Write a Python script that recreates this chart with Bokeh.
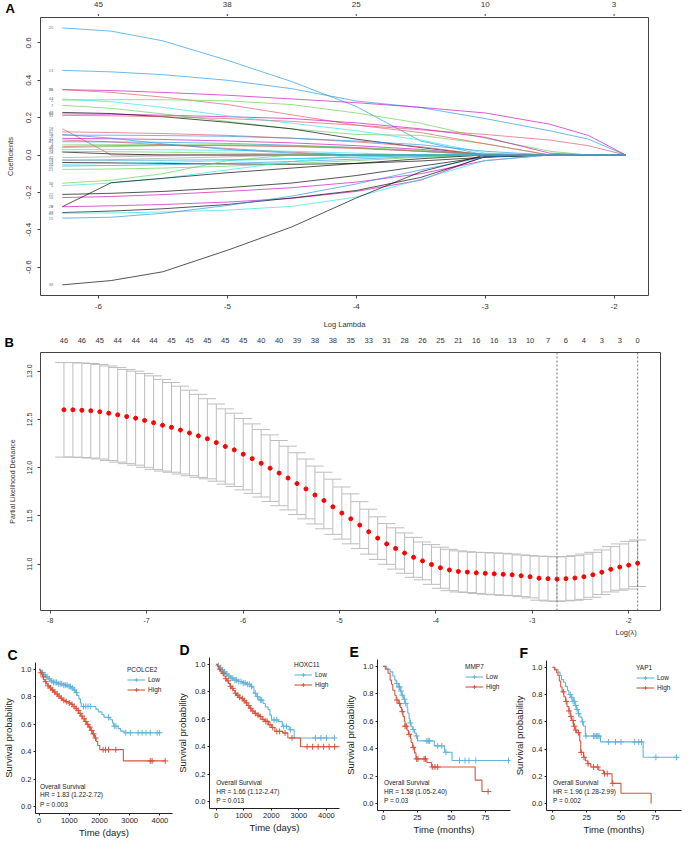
import numpy as np
from bokeh.plotting import figure
from bokeh.layouts import column, row
from bokeh.models import (Range1d, LinearAxis, FixedTicker, Label, Span, Legend, LegendItem,
                          ColumnDataSource, Title)
from bokeh.embed import file_html
from bokeh.resources import INLINE
from bokeh.core.properties import value

FONT = "Liberation Sans"

# ---------------- Panel A data (lasso coefficient paths) ----------------
A_LOGLAM = [-6.28, -5.9, -5.5, -5.0, -4.5, -4.0, -3.5, -3.0, -2.5, -2.2, -1.91]
A_PATHS = [
    [0.680, 0.663, 0.611, 0.507, 0.393, 0.260, 0.075, 0, 0, 0, 0],
    [0.453, 0.445, 0.430, 0.400, 0.355, 0.289, 0.254, 0.195, 0.130, 0.085, 0],
    [0.350, 0.345, 0.335, 0.320, 0.300, 0.280, 0.255, 0.225, 0.165, 0.105, 0],
    [0.350, 0.335, 0.310, 0.270, 0.215, 0.160, 0.135, 0.110, 0.080, 0.050, 0],
    [0.294, 0.296, 0.296, 0.290, 0.270, 0.225, 0.170, 0.090, 0.020, 0, 0],
    [0.220, 0.218, 0.213, 0.205, 0.195, 0.172, 0.140, 0.095, 0.010, 0, 0],
    [0.266, 0.250, 0.220, 0.180, 0.140, 0.110, 0.105, 0.060, 0, 0, 0],
    [0.228, 0.222, 0.205, 0.175, 0.140, 0.085, 0.040, 0, 0, 0, 0],
    [0.212, 0.210, 0.205, 0.195, 0.180, 0.160, 0.120, 0.060, 0, 0, 0],
    [0.300, 0.285, 0.255, 0.210, 0.170, 0.130, 0.080, 0.010, 0, 0, 0],
    [0.141, 0, 0, 0, 0, 0, 0, 0, 0, 0, 0],
    [0.124, 0.120, 0.115, 0.105, 0.090, 0.070, 0.045, 0, 0, 0, 0],
    [0.106, 0.106, 0.104, 0.100, 0.090, 0.075, 0.055, 0.020, 0, 0, 0],
    [0.089, 0.087, 0.083, 0.075, 0.065, 0.050, 0.030, 0, 0, 0, 0],
    [0.071, 0.070, 0.068, 0.062, 0.052, 0.040, 0.020, 0, 0, 0, 0],
    [0.054, 0.055, 0.055, 0.052, 0.047, 0.038, 0.020, 0, 0, 0, 0],
    [0.040, 0.045, 0.050, 0.055, 0.050, 0.040, 0.025, 0.005, 0, 0, 0],
    [0.016, 0.006, 0, 0, 0, 0, 0, 0, 0, 0, 0],
    [0.080, 0.070, 0.055, 0.035, 0.015, 0, 0, 0, 0, 0, 0],
    [0.030, 0.030, 0.028, 0.025, 0.020, 0.010, 0, 0, 0, 0, 0],
    [-0.014, -0.010, -0.005, 0, 0, 0, 0, 0, 0, 0, 0],
    [-0.026, -0.028, -0.028, -0.025, -0.020, -0.012, -0.004, 0, 0, 0, 0],
    [-0.040, -0.042, -0.045, -0.048, -0.050, -0.045, -0.032, -0.012, 0, 0, 0],
    [-0.059, -0.056, -0.052, -0.045, -0.035, -0.022, -0.008, 0, 0, 0, 0],
    [-0.077, -0.075, -0.070, -0.060, -0.045, -0.030, -0.012, 0, 0, 0, 0],
    [-0.151, -0.135, -0.100, -0.030, 0, 0, 0, 0, 0, 0, 0],
    [-0.164, -0.150, -0.125, -0.080, -0.035, 0, 0, 0, 0, 0, 0],
    [-0.211, -0.205, -0.195, -0.175, -0.150, -0.110, -0.060, -0.010, 0, 0, 0],
    [-0.228, -0.222, -0.212, -0.195, -0.175, -0.145, -0.100, -0.030, 0, 0, 0],
    [-0.277, -0.148, -0.125, -0.095, -0.070, -0.045, -0.020, 0, 0, 0, 0],
    [-0.277, -0.272, -0.265, -0.252, -0.232, -0.195, -0.135, -0.005, 0, 0, 0],
    [-0.308, -0.300, -0.288, -0.265, -0.230, -0.190, -0.120, -0.010, 0, 0, 0],
    [-0.312, -0.310, -0.305, -0.295, -0.275, -0.225, -0.130, -0.030, 0, 0, 0],
    [-0.338, -0.333, -0.312, -0.270, -0.220, -0.155, -0.080, -0.010, 0, 0, 0],
    [-0.695, -0.672, -0.625, -0.510, -0.385, -0.230, -0.090, 0, 0, 0, 0],
    [0.020, 0.018, 0.015, 0.010, 0.005, 0, 0, 0, 0, 0, 0],
    [-0.030, -0.025, -0.018, -0.010, 0, 0, 0, 0, 0, 0, 0],
    [0.045, 0.050, 0.052, 0.050, 0.045, 0.035, 0.020, 0.005, 0, 0, 0],
    [-0.050, -0.045, -0.040, -0.030, -0.020, -0.010, 0, 0, 0, 0, 0],
    [0.110, 0.090, 0.060, 0.030, 0.010, 0, 0, 0, 0, 0, 0],
]
BL, RD, GR, CY, MG, BK, GY = "#2297E6", "#DF536B", "#61D04F", "#28E2E5", "#CD0BBC", "#000000", "#9E9E9E"
A_COLORS = [BL, BL, MG, RD, GR, MG, GR, BK, RD, CY, RD, RD, BL, MG, BL, GR, GR, BK, RD, CY,
            GY, BL, BK, BL, GR, GR, CY, BK, MG, BK, MG, BK, CY, BL, BK, GR, GY, RD, CY, BL]
A_VARLABELS = ["20", "13", "35", "36", "2", "30", "7", "43", "31", "44", "18", "32", "8", "11", "41", "4",
               "40", "24", "27", "33", "42", "17", "14", "12", "21", "39", "5", "22", "16", "6", "28",
               "23", "45", "15", "38", "1", "3", "9", "10", "19"]
A_YTICKS = [-0.6, -0.4, -0.2, 0.0, 0.2, 0.4, 0.6]
A_YLABELS = ["-0.6", "-0.4", "-0.2", "0.0", "0.2", "0.4", "0.6"]
A_XTICKS = [-6, -5, -4, -3, -2]
A_XLABELS = ["-6", "-5", "-4", "-3", "-2"]
A_TOPLABELS = ["45", "38", "25", "10", "3"]

# ---------------- Panel B data (cross-validation) ----------------
B_LOGLAM = [-7.858, -7.765, -7.672, -7.579, -7.486, -7.393, -7.300, -7.207, -7.114, -7.021,
            -6.928, -6.835, -6.742, -6.649, -6.556, -6.463, -6.370, -6.277, -6.184, -6.091,
            -5.998, -5.905, -5.812, -5.719, -5.626, -5.533, -5.440, -5.347, -5.254, -5.161,
            -5.068, -4.975, -4.882, -4.789, -4.696, -4.603, -4.510, -4.417, -4.324, -4.231,
            -4.138, -4.045, -3.952, -3.859, -3.766, -3.673, -3.580, -3.487, -3.394, -3.301,
            -3.208, -3.115, -3.022, -2.929, -2.836, -2.743, -2.650, -2.557, -2.464, -2.371,
            -2.278, -2.185, -2.092, -1.999, -1.906]
B_MEAN = [12.600, 12.600, 12.595, 12.590, 12.580, 12.565, 12.548, 12.530, 12.513, 12.490,
          12.467, 12.440, 12.418, 12.390, 12.360, 12.330, 12.300, 12.260, 12.220, 12.185,
          12.140, 12.094, 12.046, 11.995, 11.944, 11.893, 11.835, 11.780, 11.717, 11.660,
          11.595, 11.530, 11.470, 11.405, 11.337, 11.270, 11.210, 11.163, 11.115, 11.071,
          11.034, 10.997, 10.963, 10.940, 10.925, 10.918, 10.910, 10.905, 10.900, 10.895,
          10.890, 10.880, 10.870, 10.855, 10.850, 10.845, 10.850, 10.857, 10.870, 10.890,
          10.917, 10.947, 10.970, 10.990, 11.010]
B_SE = [0.490, 0.490, 0.490, 0.490, 0.490, 0.490, 0.490, 0.488, 0.487, 0.486,
        0.485, 0.475, 0.465, 0.455, 0.443, 0.430, 0.415, 0.400, 0.390, 0.380,
        0.370, 0.360, 0.350, 0.345, 0.338, 0.330, 0.320, 0.310, 0.300, 0.293,
        0.286, 0.270, 0.259, 0.243, 0.233, 0.221, 0.211, 0.214, 0.209, 0.207,
        0.196, 0.206, 0.213, 0.214, 0.213, 0.211, 0.213, 0.216, 0.216, 0.218,
        0.216, 0.216, 0.219, 0.228, 0.231, 0.231, 0.230, 0.231, 0.235, 0.233,
        0.231, 0.235, 0.240, 0.247, 0.241]
B_NZERO = ["46", "46", "45", "44", "44", "44", "45", "45", "45", "45", "45", "40", "40", "39", "38", "38",
           "35", "33", "31", "28", "26", "25", "21", "16", "16", "13", "10", "7", "6", "4", "3", "3", "0"]
B_YTICKS = [11.0, 11.5, 12.0, 12.5, 13.0]
B_YLABELS = ["11.0", "11.5", "12.0", "12.5", "13.0"]
B_XTICKS = [-8, -7, -6, -5, -4, -3, -2]
B_XLABELS = ["-8", "-7", "-6", "-5", "-4", "-3", "-2"]

# ---------------- Panels C-F data (Kaplan-Meier) ----------------
C_LOW_T = [0, 40, 90, 150, 220, 300, 380, 450, 600, 800, 960, 1050, 1130, 1200, 1260, 1320, 1370, 1400,
           1880, 1960, 2080, 2150, 2350, 2430, 2470, 2620, 2700, 2820, 3990]
C_LOW_S = [1.0, 0.99, 0.975, 0.96, 0.945, 0.93, 0.915, 0.905, 0.895, 0.885, 0.875, 0.865, 0.85, 0.83, 0.81,
           0.785, 0.755, 0.73, 0.71, 0.69, 0.67, 0.65, 0.633, 0.61, 0.586, 0.568, 0.55, 0.538, 0.538]
C_LOW_CENS = [120, 200, 260, 340, 420, 480, 530, 580, 640, 700, 750, 820, 870, 930, 990, 1040, 1100, 1170,
              1240, 1470, 1545, 1620, 1700, 2300, 2490, 2545, 2870, 3020, 3280, 3410, 3540, 3680, 3910, 3990]
C_HIGH_T = [0, 30, 60, 90, 120, 150, 190, 240, 290, 350, 410, 480, 550, 620, 700, 780, 860, 960, 1060, 1120,
            1200, 1260, 1320, 1380, 1440, 1510, 1570, 1640, 1700, 1760, 1840, 1890, 1940, 2010, 2790, 4175]
C_HIGH_S = [1.0, 0.99, 0.975, 0.96, 0.945, 0.925, 0.91, 0.895, 0.88, 0.865, 0.85, 0.835, 0.82, 0.805, 0.79,
            0.775, 0.765, 0.755, 0.745, 0.73, 0.715, 0.70, 0.68, 0.66, 0.64, 0.62, 0.60, 0.58, 0.555, 0.53,
            0.50, 0.475, 0.445, 0.415, 0.333, 0.333]
C_HIGH_CENS = [60, 140, 220, 300, 380, 450, 520, 600, 660, 740, 820, 900, 1000, 1090, 1160, 1230, 1300,
               1360, 1420, 1490, 1550, 1610, 1680, 1740, 1800, 1870, 2120, 2200, 2300, 2540, 3680, 3740, 4175]

D_LOW_T = [0, 40, 100, 170, 250, 330, 420, 520, 640, 800, 950, 1100, 1250, 1320, 1370, 1450, 1550, 1700,
           1780, 1880, 1950, 2010, 2250, 2400, 2650, 2830, 4290]
D_LOW_S = [1.0, 0.99, 0.975, 0.96, 0.945, 0.93, 0.915, 0.90, 0.885, 0.875, 0.865, 0.855, 0.84, 0.83, 0.79,
           0.765, 0.74, 0.715, 0.69, 0.67, 0.63, 0.595, 0.583, 0.548, 0.524, 0.464, 0.464]
D_LOW_CENS = [80, 150, 220, 300, 380, 460, 540, 600, 680, 740, 820, 900, 980, 1050, 1130, 1200, 1280, 1420,
              1500, 1600, 1650, 2100, 2200, 2450, 2550, 2700, 3600, 3800, 4000, 4290]
D_HIGH_T = [0, 50, 100, 150, 200, 270, 330, 390, 450, 500, 560, 620, 680, 740, 820, 910, 980, 1050, 1120,
            1200, 1290, 1380, 1480, 1560, 1660, 1760, 1900, 2000, 2130, 2420, 2600, 3060, 4580]
D_HIGH_S = [1.0, 0.985, 0.965, 0.95, 0.935, 0.915, 0.895, 0.88, 0.86, 0.84, 0.825, 0.81, 0.79, 0.775, 0.76,
            0.75, 0.735, 0.72, 0.70, 0.68, 0.66, 0.643, 0.63, 0.62, 0.60, 0.585, 0.56, 0.54, 0.512, 0.50,
            0.464, 0.40, 0.40]
D_HIGH_CENS = [130, 250, 350, 430, 520, 600, 700, 780, 850, 950, 1020, 1100, 1180, 1250, 1330, 1420, 1520,
               1600, 1700, 1800, 1850, 1950, 2050, 2200, 2300, 2500, 2750, 3300, 3500, 3700, 3900, 4100,
               4300, 4580]

E_LOW_T = [0, 2.5, 5, 7, 8.5, 9.5, 11, 12.5, 13.5, 15, 16, 17.5, 18, 19, 19.5, 20.5, 21.6, 23, 24, 25.2,
           37.5, 45, 50.5, 92]
E_LOW_S = [1.0, 0.98, 0.96, 0.93, 0.90, 0.875, 0.85, 0.82, 0.79, 0.76, 0.73, 0.70, 0.66, 0.62, 0.588, 0.56,
           0.54, 0.515, 0.493, 0.457, 0.421, 0.374, 0.314, 0.314]
E_LOW_CENS = [10, 11.5, 12, 13, 14, 15.5, 16.5, 20, 22, 24.5, 32, 33, 34, 40, 43, 46, 56, 60, 63, 68, 92]
E_HIGH_T = [0, 1.5, 3.5, 5, 6, 7, 8.5, 9.5, 11, 12.5, 13.5, 14.5, 15.5, 16, 17.5, 18.5, 20, 20.5, 21.6, 23,
            24, 32, 35.5, 67.5, 72.5, 77]
E_HIGH_S = [1.0, 0.98, 0.95, 0.90, 0.87, 0.826, 0.79, 0.755, 0.73, 0.70, 0.67, 0.636, 0.60, 0.564, 0.535,
            0.505, 0.475, 0.445, 0.41, 0.37, 0.326, 0.30, 0.267, 0.171, 0.088, 0.088]
E_HIGH_CENS = [10, 12, 14, 16, 17, 19, 22, 24.5, 25.5, 30, 31, 36, 38, 40, 77]

F_LOW_T = [0, 2, 4, 5.5, 6.5, 8, 9.5, 11, 12, 13.5, 15, 16.5, 17.5, 19, 20, 21.5, 22.5, 24, 35, 66.2, 90.5]
F_LOW_S = [1.0, 0.985, 0.965, 0.94, 0.91, 0.89, 0.86, 0.83, 0.80, 0.78, 0.75, 0.72, 0.69, 0.66, 0.635, 0.60,
           0.57, 0.496, 0.453, 0.34, 0.34]
F_LOW_CENS = [13, 14, 15, 16, 17, 18, 19, 22, 24.5, 30, 31, 32, 33, 34, 41, 46, 50, 60, 63, 65, 75.5, 90.5]
F_HIGH_T = [0, 1.4, 3, 4, 5, 6, 7, 8.3, 9.5, 10.6, 12, 13, 14, 15.3, 16.5, 17.6, 19.9, 20.6, 22.7, 24, 25.7,
            28, 33.8, 37.3, 43.5, 50, 72]
F_HIGH_S = [1.0, 0.98, 0.96, 0.94, 0.90, 0.856, 0.82, 0.784, 0.75, 0.712, 0.68, 0.64, 0.61, 0.568, 0.54,
            0.52, 0.46, 0.376, 0.34, 0.315, 0.293, 0.269, 0.245, 0.22, 0.149, 0.077, 0.0]
F_HIGH_CENS = [8, 10, 12, 13.5, 15, 16, 17, 19, 21, 23, 26, 30, 33, 38, 40, 44]

KM_YTICKS = [0.0, 0.2, 0.4, 0.6, 0.8, 1.0]
KM_YLABELS = ["0.0", "0.2", "0.4", "0.6", "0.8", "1.0"]
DAYS_TICKS = [0, 1000, 2000, 3000, 4000]
DAYS_LABELS = ["0", "1000", "2000", "3000", "4000"]
MONTH_TICKS = [0, 25, 50, 75]
MONTH_LABELS = ["0", "25", "50", "75"]

LOW_COL = "#62B4DA"
HIGH_COL = "#D9543C"


def make_fig(w, h, fl, ft, fr, fb, xr, yr):
    p = figure(width=w, height=h, x_range=Range1d(xr[0], xr[1]), y_range=Range1d(yr[0], yr[1]),
               output_backend="svg", toolbar_location=None, title=None,
               x_axis_type=None, y_axis_type=None, frame_align=False,
               min_border_left=fl, min_border_top=ft, min_border_right=w - fr, min_border_bottom=h - fb)
    p.outline_line_color = None
    p.background_fill_color = "white"
    p.border_fill_color = "white"
    return p


def strip_fig(w, h, fl, fr, xr):
    # a thin strip whose frame is the whole canvas, sharing the x scale of the panel below it
    k = (xr[1] - xr[0]) / (fr - fl)
    x0 = xr[0] - fl * k
    x1 = xr[1] + (w - fr) * k
    p = figure(width=w, height=h, x_range=Range1d(x0, x1), y_range=Range1d(0, h),
               output_backend="svg", toolbar_location=None, title=None, frame_align=False,
               x_axis_type=None, y_axis_type=None,
               min_border_left=0, min_border_right=0, min_border_top=0, min_border_bottom=0)
    p.outline_line_color = None
    p.background_fill_color = "white"
    p.border_fill_color = "white"
    return p, x0, k


def add_axis(p, side, ticks, labels, size, tick_out, standoff, color="#333333", title=None,
             title_size=None, title_standoff=None, orientation=None, tick_color=None, line_color=None):
    ax = LinearAxis(ticker=FixedTicker(ticks=list(ticks)),
                    major_label_overrides={t: l for t, l in zip(ticks, labels)})
    ax.major_label_text_font = FONT
    ax.major_label_text_font_size = f"{size}px"
    ax.major_label_text_color = color
    ax.major_tick_out = tick_out
    ax.major_tick_in = 0
    ax.minor_tick_line_color = None
    ax.major_label_standoff = standoff
    ax.major_tick_line_color = tick_color
    ax.axis_line_color = line_color
    if orientation is not None:
        ax.major_label_orientation = orientation
    if title is not None:
        ax.axis_label = title
        ax.axis_label_text_font = FONT
        ax.axis_label_text_font_size = f"{title_size}px"
        ax.axis_label_text_font_style = "normal"
        ax.axis_label_text_color = color
        ax.axis_label_standoff = title_standoff
    p.add_layout(ax, side)
    return ax


# ---------------- Panel A ----------------
W = 683
A_XR = (-6.449, -1.733)
A_FL, A_FR = 40, 648
SA_H = 16
sA, sA_x0, sA_k = strip_fig(W, SA_H, A_FL, A_FR, A_XR)
sA.segment(x0=A_XTICKS, y0=[0] * 5, x1=A_XTICKS, y1=[2.5] * 5, line_color="#444444", line_width=1)
sA.text(x=A_XTICKS, y=[12.1] * 5, text=A_TOPLABELS, text_font=value(FONT), text_font_size="8px",
        text_color="#333333", text_align="center", text_baseline="middle")
sA.text(x=[sA_x0 + 5 * sA_k], y=[15.6], text=["A"], text_font=value(FONT), text_font_size="13px",
        text_font_style="bold", text_color="#000000", text_align="left", text_baseline="top")

pA = make_fig(W, 316, A_FL, 1, A_FR, 279, A_XR, (-0.752, 0.736))
pA.outline_line_color = "#444444"
add_axis(pA, "left", A_YTICKS, A_YLABELS, 8, 3, 6, title="Coefficients", title_size=7.5, title_standoff=9,
         orientation="vertical", tick_color="#444444")
add_axis(pA, "below", A_XTICKS, A_XLABELS, 8, 3, 5, title="Log Lambda", title_size=7.5, title_standoff=8,
         tick_color="#444444")
srcA = ColumnDataSource(dict(xs=[A_LOGLAM] * len(A_PATHS), ys=A_PATHS, c=A_COLORS))
pA.multi_line(xs="xs", ys="ys", line_color="c", line_width=0.9, line_alpha=0.75, source=srcA)
pA.text(x=[A_LOGLAM[0] - 0.07] * len(A_PATHS), y=[pth[0] for pth in A_PATHS], text=A_VARLABELS,
        text_font=value(FONT), text_font_size="4px", text_color="#777777", text_align="right",
        text_baseline="middle")

# ---------------- Panel B ----------------
B_XR = (-8.101, -1.669)
B_FL, B_FR = 40, 660
sB, sB_x0, sB_k = strip_fig(W, 19, B_FL, B_FR, B_XR)
top_ticks = [round(v, 4) for v in B_LOGLAM[::2]]
sB.text(x=top_ticks, y=[10.6] * len(top_ticks), text=B_NZERO, text_font=value(FONT), text_font_size="7.5px",
        text_color="#333333", text_align="center", text_baseline="middle")
sB.text(x=[sB_x0 + 4 * sB_k], y=[17.0], text=["B"], text_font=value(FONT), text_font_size="13px",
        text_font_style="bold", text_color="#000000", text_align="left", text_baseline="top")

pB = make_fig(W, 287, B_FL, 1, B_FR, 259, B_XR, (10.52, 13.194))
pB.outline_line_color = "#444444"
add_axis(pB, "left", B_YTICKS, B_YLABELS, 7, 3, 5, title="Partial Likelihood Deviance", title_size=7,
         title_standoff=9, orientation="vertical", tick_color="#444444")
add_axis(pB, "below", B_XTICKS, B_XLABELS, 7, 3, 4, tick_color="#444444")
pB.add_layout(Title(text="Log(λ)", align="left", offset=575, standoff=0, text_font=FONT,
                    text_font_size="7.5px", text_font_style="normal", text_color="#333333"), "below")
mean = np.array(B_MEAN)
se = np.array(B_SE)
ll = np.array(B_LOGLAM)
capw = 0.09
pB.segment(x0=ll, y0=mean - se, x1=ll, y1=mean + se, line_color="#BDBDBD", line_width=1)
pB.segment(x0=ll - capw, y0=mean + se, x1=ll + capw, y1=mean + se, line_color="#BDBDBD", line_width=1)
pB.segment(x0=ll - capw, y0=mean - se, x1=ll + capw, y1=mean - se, line_color="#BDBDBD", line_width=1)
pB.scatter(x=ll, y=mean, size=4, fill_color="#FF0000", line_color="#FF0000")
imin = int(np.argmin(mean))
thr = mean[imin] + se[imin]
i1se = int(max(i for i in range(len(mean)) if mean[i] <= thr))
for loc in (ll[imin], ll[i1se]):
    pB.add_layout(Span(location=float(loc), dimension="height", line_color="#555555", line_width=0.8,
                       line_dash="2 2"))


# ---------------- Panels C-F ----------------
def step_at(times, surv, t):
    idx = np.searchsorted(np.array(times), np.array(t), side="right") - 1
    return [surv[i] for i in idx]


def km_panel(w, h, fl, ft, fr, fb, xr, xticks, xlabels, xtitle, gene, low, high, ann, let, let_off):
    p = make_fig(w, h, fl, ft, fr, fb, xr, (-0.05, 1.05))
    p.add_layout(Title(text=let, align="left", offset=let_off, standoff=0, text_font=FONT,
                       text_font_size="14px", text_font_style="bold", text_color="#000000"), "above")
    add_axis(p, "left", KM_YTICKS, KM_YLABELS, 7.5, 2, 2, color="#222222", title="Survival probability",
             title_size=9.5, title_standoff=4, tick_color="#222222", line_color="#222222")
    add_axis(p, "below", xticks, xlabels, 7.5, 2, 2, color="#222222", title=xtitle, title_size=9.5,
             title_standoff=1, tick_color="#222222", line_color="#222222")
    items = []
    for (t, s, cens), col, lab in ((low, LOW_COL, "Low"), (high, HIGH_COL, "High")):
        r1 = p.step(x=t, y=s, mode="after", line_color=col, line_width=1.1)
        r2 = p.scatter(x=cens, y=step_at(t, s, cens), marker="cross", size=6, line_color=col,
                       line_width=1)
        items.append(LegendItem(label=lab, renderers=[r1, r2]))
    leg = Legend(items=items, title=gene, location="top_right", margin=4, padding=2, spacing=1,
                 glyph_width=18, glyph_height=9, label_height=9, label_standoff=3, title_standoff=2,
                 background_fill_alpha=0, border_line_color=None,
                 label_text_font=FONT, label_text_font_size="6.5px", label_text_color="#222222",
                 title_text_font=FONT, title_text_font_size="6.5px", title_text_font_style="normal",
                 title_text_color="#222222")
    p.add_layout(leg)
    for (tx, ty, txt) in ann:
        p.add_layout(Label(x=tx, y=ty, text=txt, text_font=FONT, text_font_size="6.5px",
                           text_align="left", text_baseline="middle", text_color="#222222"))
    return p


RH = 202
pC = km_panel(174, RH, 32, 24, 172, 175, (-117, 4416), DAYS_TICKS, DAYS_LABELS, "Time (days)", "PCOLCE2",
              (C_LOW_T, C_LOW_S, C_LOW_CENS), (C_HIGH_T, C_HIGH_S, C_HIGH_CENS),
              [(30, 0.15, "Overall Survival"), (30, 0.086, "HR = 1.83 (1.22-2.72)"), (30, 0.014, "P = 0.003")],
              "C", -28)
pD = km_panel(168, RH, 33, 19, 165, 170, (-245, 4476), DAYS_TICKS, DAYS_LABELS, "Time (days)", "HOXC11",
              (D_LOW_T, D_LOW_S, D_LOW_CENS), (D_HIGH_T, D_HIGH_S, D_HIGH_CENS),
              [(0, 0.143, "Overall Survival"), (0, 0.076, "HR = 1.66 (1.12-2.47)"), (0, 0.007, "P = 0.013")],
              "D", -30)
pE = km_panel(169, RH, 32, 21, 168, 172, (-4.23, 93.45), MONTH_TICKS, MONTH_LABELS, "Time (months)", "MMP7",
              (E_LOW_T, E_LOW_S, E_LOW_CENS), (E_HIGH_T, E_HIGH_S, E_HIGH_CENS),
              [(0.5, 0.152, "Overall Survival"), (0.5, 0.088, "HR = 1.58 (1.05-2.40)"), (0.5, 0.024, "P = 0.03")],
              "E", -28)
pF = km_panel(172, RH, 31, 22, 170, 172, (-4.38, 94.2), MONTH_TICKS, MONTH_LABELS, "Time (months)", "YAP1",
              (F_LOW_T, F_LOW_S, F_LOW_CENS), (F_HIGH_T, F_HIGH_S, F_HIGH_CENS),
              [(0.3, 0.153, "Overall Survival"), (0.3, 0.089, "HR = 1.96 (1.28-2.99)"), (0.3, 0.024, "P = 0.002")],
              "F", -27)

layout = column(sA, pA, sB, pB, row(pC, pD, pE, pF))
open("out.html", "w").write(file_html(layout, INLINE))
